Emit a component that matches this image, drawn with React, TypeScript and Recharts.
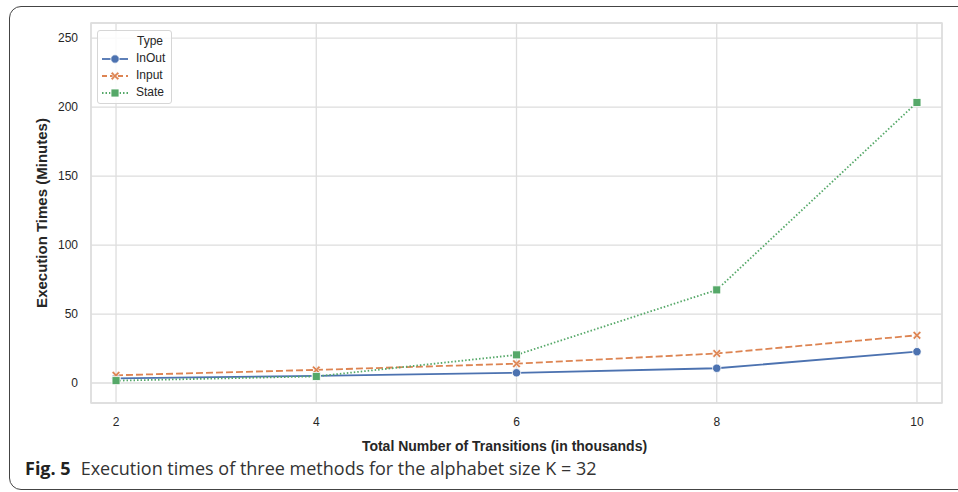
import React from "react";
import {
  LineChart,
  Line,
  XAxis,
  YAxis,
  CartesianGrid,
  Legend,
  ReferenceArea,
} from "recharts";

const transitions = [2, 4, 6, 8, 10];
const inOut = [3.4, 5.2, 7.4, 10.7, 22.7];
const input = [5.6, 9.5, 14, 21.4, 34.6];
const state = [1.7, 4.8, 20.4, 67.5, 203.4];

const xTicks = [2, 4, 6, 8, 10];
const yTicks = [0, 50, 100, 150, 200, 250];

const BLUE = "#4C72B0";
const ORANGE = "#DD8452";
const GREEN = "#55A868";
const GRID = "#dddddd";
const FONT = "'Liberation Sans', Arial, sans-serif";

const data = transitions.map((t, i) => ({
  t,
  InOut: inOut[i],
  Input: input[i],
  State: state[i],
}));

const CircleDot = (props: any) => {
  const { cx, cy } = props;
  if (cx == null || cy == null) return null;
  return <circle cx={cx} cy={cy} r={4.2} fill={BLUE} stroke="#fff" strokeWidth={0.8} />;
};

const XDot = (props: any) => {
  const { cx, cy } = props;
  if (cx == null || cy == null) return null;
  const s = 4.2;
  const w = 1.6;
  // filled "X" marker like matplotlib
  const d = `M${cx - s},${cy - s + w} L${cx - s + w},${cy - s} L${cx},${cy - w} L${cx + s - w},${cy - s} L${cx + s},${cy - s + w} L${cx + w},${cy} L${cx + s},${cy + s - w} L${cx + s - w},${cy + s} L${cx},${cy + w} L${cx - s + w},${cy + s} L${cx - s},${cy + s - w} L${cx - w},${cy} Z`;
  return <path d={d} fill={ORANGE} stroke="#fff" strokeWidth={0.6} />;
};

const SquareDot = (props: any) => {
  const { cx, cy } = props;
  if (cx == null || cy == null) return null;
  return <rect x={cx - 4} y={cy - 4} width={8} height={8} fill={GREEN} stroke="#fff" strokeWidth={0.8} />;
};

const legendItems = [
  { name: "InOut", color: BLUE, dash: undefined, marker: "circle" },
  { name: "Input", color: ORANGE, dash: "5 3", marker: "x" },
  { name: "State", color: GREEN, dash: "1.5 2", marker: "square" },
];

const LegendBox = () => (
  <div
    style={{
      border: "1px solid #d6d6d6",
      borderRadius: 3,
      background: "rgba(255,255,255,0.85)",
      padding: "2px 6px 2px 3px",
      fontFamily: FONT,
      fontSize: 12,
      color: "#262626",
      lineHeight: "17px",
    }}
  >
    <div style={{ paddingLeft: 36 }}>Type</div>
    {legendItems.map((it) => (
      <div key={it.name} style={{ display: "flex", alignItems: "center" }}>
        <svg width={28} height={12} style={{ marginRight: 7 }}>
          <line x1={1} y1={6} x2={27} y2={6} stroke={it.color} strokeWidth={1.8} strokeDasharray={it.dash} />
          {it.marker === "circle" && <CircleDot cx={14} cy={6} />}
          {it.marker === "x" && <XDot cx={14} cy={6} />}
          {it.marker === "square" && <SquareDot cx={14} cy={6} />}
        </svg>
        <span>{it.name}</span>
      </div>
    ))}
  </div>
);

export default function App() {
  return (
    <div
      style={{
        position: "fixed",
        left: 0,
        top: 0,
        width: 958,
        height: 492,
        background: "#fff",
        overflow: "hidden",
      }}
    >
      <div
        style={{
          position: "absolute",
          left: 9,
          top: 6,
          width: 1000,
          height: 484,
          border: "1.5px solid #444",
          borderRadius: 12,
          boxSizing: "border-box",
        }}
      />
      <div style={{ position: "absolute", left: 0, top: 0 }}>
        <LineChart
          width={958}
          height={460}
          data={data}
          margin={{ top: 23, right: 16, bottom: 7, left: 0 }}
        >
          <CartesianGrid stroke={GRID} strokeWidth={1.3} />
          <ReferenceArea
            x1={1.75}
            x2={10.25}
            y1={-14.5}
            y2={261}
            fill="none"
            stroke={GRID}
            strokeWidth={1.5}
          />
          <XAxis
            dataKey="t"
            type="number"
            domain={[1.75, 10.25]}
            ticks={xTicks}
            height={50}
            tickLine={false}
            axisLine={false}
            tickSize={0}
            tickMargin={14}
            tick={{ fill: "#262626", fontSize: 12, fontFamily: FONT }}
            label={{
              value: "Total Number of Transitions (in thousands)",
              position: "insideBottom",
              offset: 2,
              dx: -12,
              fill: "#262626",
              fontSize: 14,
              fontWeight: "bold",
              fontFamily: FONT,
            }}
          />
          <YAxis
            type="number"
            domain={[-14.5, 261]}
            ticks={yTicks}
            width={91}
            tickLine={false}
            axisLine={false}
            tickSize={0}
            tickMargin={13}
            tick={{ fill: "#262626", fontSize: 12, fontFamily: FONT }}
            label={{
              value: "Execution Times (Minutes)",
              angle: -90,
              position: "insideLeft",
              offset: 42,
              fill: "#262626",
              fontSize: 15,
              fontWeight: "bold",
              fontFamily: FONT,
              style: { textAnchor: "middle" },
            }}
          />
          <Legend
            layout="horizontal"
            verticalAlign="middle"
            align="center"
            content={() => <LegendBox />}
            wrapperStyle={{ left: 97, top: 30, width: "auto", height: "auto" }}
          />
          <Line
            dataKey="InOut"
            stroke={BLUE}
            strokeWidth={1.8}
            dot={<CircleDot />}
            activeDot={false}
            isAnimationActive={false}
          />
          <Line
            dataKey="Input"
            stroke={ORANGE}
            strokeWidth={1.8}
            strokeDasharray="7 3"
            dot={<XDot />}
            activeDot={false}
            isAnimationActive={false}
          />
          <Line
            dataKey="State"
            stroke={GREEN}
            strokeWidth={1.8}
            strokeDasharray="1.5 2"
            dot={<SquareDot />}
            activeDot={false}
            isAnimationActive={false}
          />
        </LineChart>
      </div>
      <div
        style={{
          position: "absolute",
          left: 25,
          top: 456,
          fontFamily: "'Open Sans', 'Noto Sans', sans-serif",
          fontSize: 18,
          color: "#333",
          whiteSpace: "nowrap",
        }}
      >
        <span style={{ fontWeight: "bold", color: "#222" }}>Fig. 5</span>
        <span style={{ marginLeft: 10 }}>
          Execution times of three methods for the alphabet size K = 32
        </span>
      </div>
    </div>
  );
}
